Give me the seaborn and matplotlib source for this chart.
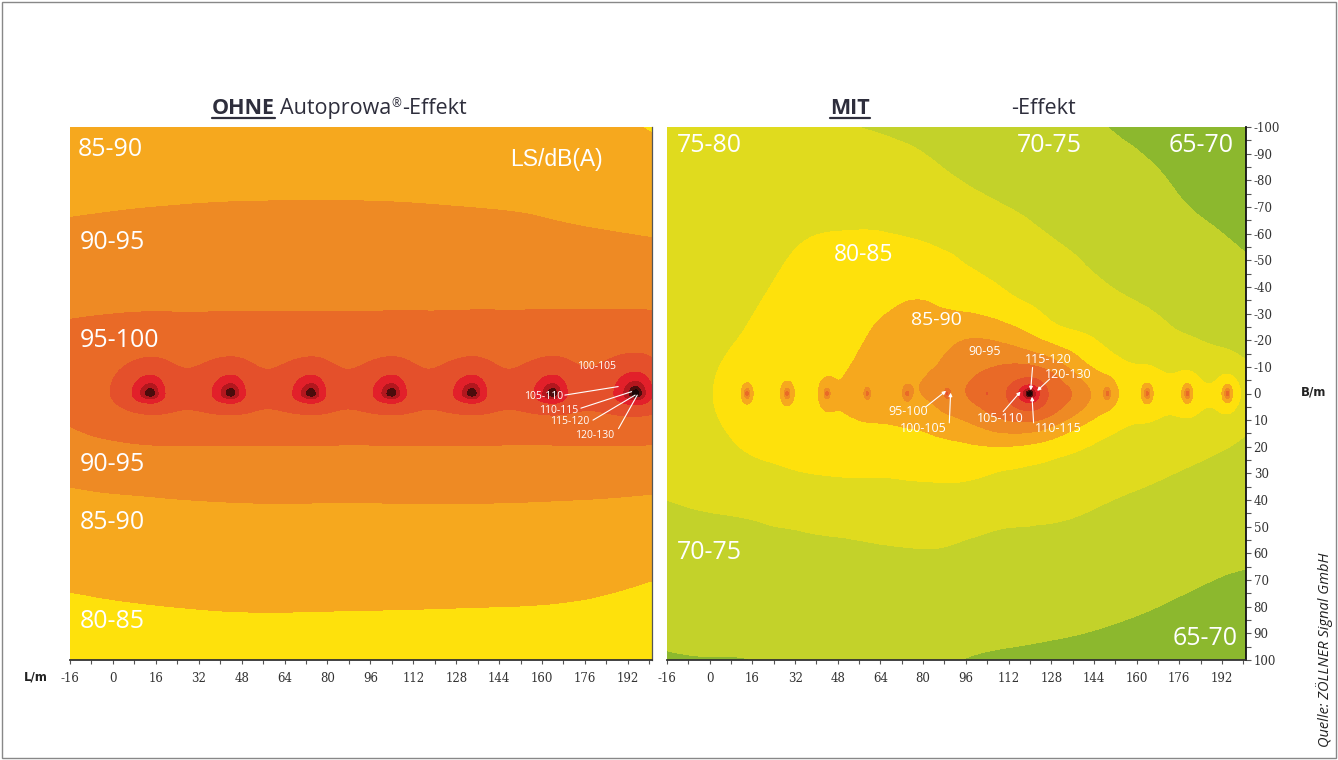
import numpy as np
import matplotlib
matplotlib.use("Agg")
import matplotlib.pyplot as plt
import matplotlib.tri as mtri
from matplotlib.lines import Line2D
from matplotlib.patches import Rectangle
import seaborn as sns

W, H = 1338, 760

#   Sound level LS in dB(A) at coarse nodes.
#   Each column list runs from B = -100 (top) to B = 100 (bottom).
b_nodes = [-100, -80, -60, -40, -30, -20, -10, 0, 10, 20, 30, 40, 60, 80, 100]

ohne_l_nodes = [-16, 16, 48, 96, 144, 176, 208]
ohne_columns = [
    [87.6, 88.8, 90.6, 93.1, 94.5, 96.1, 97.2, 97.2, 95.3, 93.3, 91.0, 89.0, 86.6, 84.2, 82.2],
    [87.8, 89.1, 90.9, 93.1, 94.5, 96.2, 98.2, 99.2, 97.6, 94.5, 92.0, 89.7, 87.3, 84.9, 82.5],
    [87.9, 89.3, 91.0, 93.1, 94.5, 96.2, 98.2, 99.2, 97.6, 94.5, 92.6, 90.2, 87.7, 85.3, 82.8],
    [87.8, 89.3, 91.0, 93.1, 94.5, 96.2, 98.2, 99.2, 97.6, 94.5, 92.6, 90.2, 87.7, 85.2, 82.8],
    [87.4, 88.9, 90.8, 93.2, 94.6, 96.3, 98.2, 99.2, 97.6, 94.5, 92.6, 90.2, 87.6, 85.0, 82.5],
    [86.5, 88.3, 90.2, 93.2, 94.6, 96.4, 98.2, 99.2, 97.6, 94.5, 92.4, 89.9, 87.2, 84.6, 82.2],
    [84.0, 87.0, 89.4, 92.9, 94.6, 96.4, 98.2, 99.2, 97.6, 94.3, 91.8, 89.3, 86.1, 83.5, 81.5],
]

mit_l_nodes = [-16, 0, 16, 32, 48, 64, 80, 96, 112, 128, 144, 160, 176, 192, 208]
mit_columns = [
    [76.8, 77.3, 77.8, 78.2, 78.4, 78.5, 78.6, 78.6, 78.0, 77.2, 76.2, 75.0, 73.2, 71.5, 69.7],
    [76.4, 77.0, 77.7, 78.4, 78.8, 79.2, 79.6, 79.8, 79.5, 78.6, 77.2, 75.6, 73.5, 71.6, 69.9],
    [76.0, 76.8, 77.8, 79.2, 79.9, 80.5, 81.2, 81.5, 81.2, 80.4, 78.5, 76.2, 73.6, 71.6, 70.0],
    [75.7, 77.0, 79.4, 81.0, 81.6, 82.2, 82.8, 83.0, 82.6, 81.4, 79.7, 77.4, 73.6, 71.9, 70.5],
    [75.3, 77.5, 80.1, 82.0, 82.7, 83.4, 84.2, 84.8, 84.2, 82.2, 80.2, 78.2, 73.8, 72.2, 71.0],
    [74.6, 77.6, 80.1, 83.0, 84.7, 85.8, 86.8, 87.3, 85.2, 82.8, 80.3, 78.5, 74.3, 72.5, 71.2],
    [73.6, 76.4, 79.4, 83.9, 85.8, 87.5, 89.0, 90.0, 86.4, 83.4, 80.6, 78.6, 74.7, 72.6, 71.0],
    [72.7, 74.8, 78.0, 81.6, 85.2, 90.0, 92.6, 94.8, 90.0, 84.0, 80.6, 77.8, 74.4, 72.2, 69.9],
    [71.9, 73.6, 76.6, 79.6, 82.6, 88.6, 95.0, 98.3, 94.0, 83.8, 79.2, 77.0, 73.8, 71.7, 69.5],
    [71.1, 72.5, 74.8, 77.6, 79.0, 83.2, 92.0, 97.3, 91.5, 81.0, 78.4, 76.6, 73.6, 71.4, 69.2],
    [70.3, 71.8, 73.5, 75.6, 77.2, 79.8, 84.0, 89.0, 84.0, 79.2, 77.4, 75.5, 72.8, 70.9, 68.8],
    [69.2, 71.0, 72.4, 74.1, 75.7, 77.3, 79.8, 82.0, 79.8, 77.8, 76.1, 74.3, 71.9, 70.3, 68.3],
    [68.3, 69.6, 71.0, 72.7, 73.8, 75.3, 78.2, 80.6, 78.6, 76.4, 74.7, 73.3, 71.2, 69.7, 67.8],
    [67.6, 68.6, 70.0, 71.3, 72.5, 73.9, 76.4, 79.4, 77.2, 74.9, 73.2, 71.9, 70.5, 69.2, 67.3],
    [67.0, 67.9, 69.2, 70.7, 71.5, 72.7, 74.6, 78.4, 74.8, 73.2, 71.9, 70.9, 70.2, 68.8, 66.9],
]

#   Horn positions along the track (B = 0) and their strengths
ohne_horn_l = [14, 44, 74, 104, 134, 164, 195]
ohne_horn_lw = [122.4, 122.4, 122.4, 122.4, 122.4, 122.4, 124.0]
ohne_horn_r0 = [1.3, 1.3, 1.3, 1.3, 1.3, 1.3, 0.7]

mit_horn_l = [14, 29, 44, 59, 74, 89, 104, 134, 149, 164, 179, 194]
mit_horn_lw = [96.0, 96.0, 96.0, 95.5, 95.5, 98.5, 95.5, 96.0, 96.0, 96.0, 96.0, 96.0]
mit_main_l = 120
mit_main_lw = 118.6

band_edges = [60, 65, 70, 75, 80, 85, 90, 95, 100, 105, 110, 115, 120, 140]
band_colors = ["#6FA52E", "#8CB82E", "#C3D22A", "#E0DB1E", "#FEE10C", "#F6A81E",
               "#EE8A24", "#E96A27", "#E4502B", "#E2202A", "#B3171E", "#4A0C0C", "#1A0505"]

x_ticks = list(range(-16, 193, 16))
y_ticks = list(range(-100, 101, 10))


def background(l_nodes, columns, LL, BB):
    ln, bn = np.meshgrid(l_nodes, b_nodes)
    z = np.array(columns, dtype=float).T
    nb, nl = z.shape
    tris = []
    for i in range(nb - 1):
        for j in range(nl - 1):
            k = i * nl + j
            tris.append([k, k + 1, k + nl])
            tris.append([k + 1, k + nl + 1, k + nl])
    tri = mtri.Triangulation(ln.ravel(), bn.ravel(), tris)
    interp = mtri.CubicTriInterpolator(tri, z.ravel(), kind='min_E')
    return interp(LL, BB).filled(np.nan)


def horn(LL, BB, pos, lw, r0, kx_l, kx_r, ky_t, ky_b, alpha):
    dx = LL - pos
    dx = np.where(dx > 0, dx * kx_r, dx * kx_l)
    dy = np.where(BB > 0, BB * ky_b, BB * ky_t)
    r = np.sqrt(dx ** 2 + dy ** 2 + r0 ** 2)
    return lw - 20 * np.log10(r) - alpha * r


def db_sum(parts):
    return 10 * np.log10(sum(10 ** (p / 10) for p in parts))


sns.set_theme(style="white")
plt.rcParams['font.family'] = ['Open Sans', 'DejaVu Sans']
plt.rcParams['axes.unicode_minus'] = False

L = np.linspace(-15.99, 200.99, 900)
B = np.linspace(-99.99, 99.99, 830)
LL, BB = np.meshgrid(L, B)

ohne_parts = [background(ohne_l_nodes, ohne_columns, LL, BB)]
for p, lw, r0 in zip(ohne_horn_l, ohne_horn_lw, ohne_horn_r0):
    ohne_parts.append(horn(LL, BB, p, lw, r0, 1.0, 1.3, 1.0, 1.9, 0.25))
ohne_field = db_sum(ohne_parts)

mit_parts = [background(mit_l_nodes, mit_columns, LL, BB)]
for p, lw in zip(mit_horn_l, mit_horn_lw):
    mit_parts.append(horn(LL, BB, p, lw, 0.8, 1.8, 1.8, 1.0, 1.0, 0.3))
mit_parts.append(horn(LL, BB, mit_main_l, mit_main_lw, 0.3, 1.0, 1.2, 1.3, 1.2, 0.5))
mit_field = db_sum(mit_parts)

fig = plt.figure(figsize=(W / 100, H / 100), dpi=100)
ax1 = fig.add_axes([70 / W, 1 - 660 / H, 582 / W, 533 / H])
ax2 = fig.add_axes([667 / W, 1 - 660 / H, 579 / W, 533 / H])

for ax, field in [(ax1, ohne_field), (ax2, mit_field)]:
    ax.contourf(LL, BB, field, levels=band_edges, colors=band_colors, antialiased=False)
    ax.set_xticks(x_ticks)
    ax.set_xticklabels([str(v) for v in x_ticks])
    ax.set_xticks(np.arange(-16, 201, 8), minor=True)
    ax.tick_params(axis='x', which='both', direction='out', length=3, width=0.8,
                   color='#555555', labelsize=8.5, labelcolor='#333333', pad=6, bottom=True)
    for lbl in ax.get_xticklabels():
        lbl.set_fontfamily('DejaVu Serif')
    ax.spines['top'].set_visible(False)
    ax.spines['left'].set_visible(False)
    ax.spines['bottom'].set_color('#333333')
    ax.spines['bottom'].set_linewidth(1.3)
    ax.grid(False)

ax1.set_yticks([])
ax1.spines['right'].set_color('#555555')
ax1.spines['right'].set_linewidth(0.9)

ax2.yaxis.tick_right()
ax2.set_yticks(y_ticks)
ax2.set_yticklabels([str(v) for v in y_ticks])
ax2.set_yticks(np.arange(-95, 100, 10), minor=True)
ax2.tick_params(axis='y', which='both', direction='out', length=3.5, width=0.8,
                color='#555555', labelsize=8.5, labelcolor='#333333', pad=2, right=True, left=False)
for lbl in ax2.get_yticklabels():
    lbl.set_fontfamily('DejaVu Serif')
ax2.spines['right'].set_color('#111111')
ax2.spines['right'].set_linewidth(1.3)


def band_label(ax, l, b, s, size=18):
    ax.text(l, b, s, color='white', fontsize=size, ha='left', va='baseline')


band_label(ax1, -13.0, -89.1, '85-90')
band_label(ax1, -12.5, -54.2, '90-95')
band_label(ax1, -12.5, -17.5, '95-100')
band_label(ax1, -12.5, 29.1, '90-95')
band_label(ax1, -12.5, 50.8, '85-90')
band_label(ax1, -12.5, 88.0, '80-85')
ax1.text(182.7, -85.4, 'LS/dB(A)', color='white', fontsize=16.5, ha='right', va='baseline',
         family=['Liberation Sans', 'DejaVu Sans'])

band_label(ax2, -12.3, -90.6, '75-80')
band_label(ax2, 115.2, -90.6, '70-75')
band_label(ax2, 172.0, -90.6, '65-70')
band_label(ax2, 46.6, -49.7, '80-85', 16.5)
band_label(ax2, 75.5, -25.7, '85-90', 14)
band_label(ax2, -12.3, 62.1, '70-75')
band_label(ax2, 173.5, 94.4, '65-70')


def pointer(ax, s, txt, start, end, size, head=False):
    ax.text(txt[0], txt[1], s, color='white', fontsize=size, ha='center', va='center')
    style = '-|>' if head else '-'
    ax.annotate('', xy=end, xytext=start,
                arrowprops=dict(arrowstyle=style, color='white', lw=0.8,
                                mutation_scale=5, shrinkA=0, shrinkB=0))


ax1.text(180.4, -10.3, '100-105', color='white', fontsize=7.5, ha='center', va='center')
pointer(ax1, '105-110', (160.5, 1.2), (168.5, 0.6), (188.4, -2.6), 7.5)
pointer(ax1, '110-115', (166.1, 6.4), (174.5, 5.5), (193.4, -0.7), 7.5)
pointer(ax1, '115-120', (170.4, 10.6), (179.0, 10.0), (194.7, 0.6), 7.5)
pointer(ax1, '120-130', (179.7, 15.6), (188.5, 13.2), (195.5, 0.6), 7.5)

ax2.text(103.2, -15.7, '90-95', color='white', fontsize=9, ha='center', va='center')
pointer(ax2, '115-120', (126.9, -12.6), (121.0, -9.8), (120.3, -1.2), 9, True)
pointer(ax2, '120-130', (134.3, -7.3), (127.4, -5.4), (122.7, -1.0), 9, True)
pointer(ax2, '95-100', (74.3, 6.8), (81.0, 5.0), (88.6, -1.0), 9, True)
pointer(ax2, '100-105', (80.1, 13.0), (89.8, 11.0), (90.3, -0.3), 9, True)
pointer(ax2, '105-110', (108.8, 9.3), (110.0, 6.8), (116.5, -0.7), 9, True)
pointer(ax2, '110-115', (130.7, 13.0), (121.4, 11.0), (120.8, 1.2), 9, True)

for ax in (ax1, ax2):
    ax.set_xlim(-16, 201)
    ax.set_ylim(100, -100)

#   Titles with underlined key word
title_color = '#2e2e3c'
renderer = fig.canvas.get_renderer()


def title_row(x, base, pieces):
    boxes = []
    for s, kw, rise, gap in pieces:
        x += gap
        t = fig.text(x / W, 1 - (base - rise) / H, s, ha='left', va='baseline',
                     color=title_color, **kw)
        bb = t.get_window_extent(renderer=renderer)
        boxes.append(bb)
        x = bb.x1
    return boxes


def underline(bb, base):
    y = 1 - (base + 4) / H
    fig.add_artist(Line2D([bb.x0 / W, bb.x1 / W], [y, y], color=title_color, lw=1.6,
                          transform=fig.transFigure))


base = 114
boxes = title_row(212, base, [('OHNE', dict(fontsize=15.5, fontweight='bold'), 0, 0),
                              ('Autoprowa', dict(fontsize=15.5), 0, 5),
                              ('®', dict(fontsize=8.5), 7, 0.5),
                              ('-Effekt', dict(fontsize=15.5), 0, 0.5)])
underline(boxes[0], base)
boxes = title_row(830, base, [('MIT', dict(fontsize=15.5, fontweight='bold'), 0, 0)])
underline(boxes[0], base)
title_row(1011, base, [('-Effekt', dict(fontsize=15.5), 0, 0)])

fig.text(36 / W, 1 - 677 / H, 'L/m', fontsize=8.5, fontweight='bold', ha='center', va='center',
         family='DejaVu Sans', color='#222222')
fig.text(1314 / W, 1 - 392 / H, 'B/m', fontsize=8.5, fontweight='bold', ha='center', va='center',
         family='DejaVu Sans', color='#222222')
fig.text(1325 / W, 1 - 650 / H, 'Quelle: ZÖLLNER Signal GmbH', rotation=90, ha='center',
         va='center', fontsize=10.5, style='italic', color='#222222')

fig.add_artist(Rectangle((2 / W, 2 / H), 1 - 4 / W, 1 - 4 / H, transform=fig.transFigure,
                         fill=False, edgecolor='#888888', lw=1.0))

fig.savefig('out.png', dpi=100)
